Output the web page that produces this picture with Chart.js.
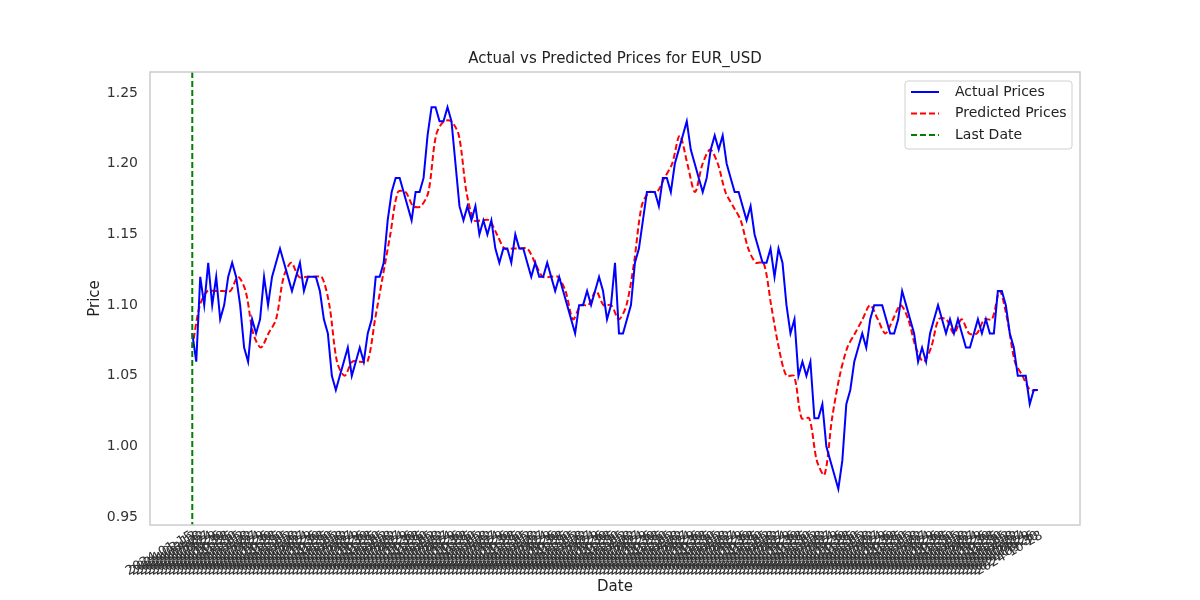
<!DOCTYPE html>
<html><head><meta charset="utf-8">
<script src="https://cdn.jsdelivr.net/npm/chart.js@4"></script>
<style>html,body{margin:0;background:#fff}#w{width:1200px;height:600px}</style>
</head><body><div id="w"><canvas id="c"></canvas></div>
<script>
const actualPrices=[1.08,1.06,1.12,1.10,1.13,1.10,1.12,1.09,1.10,1.12,1.13,1.12,1.10,1.07,1.06,1.09,1.08,1.09,1.12,1.10,
1.12,1.13,1.14,1.13,1.12,1.11,1.12,1.13,1.11,1.12,1.12,1.12,1.11,1.09,1.08,1.05,1.04,1.05,1.06,1.07,
1.05,1.06,1.07,1.06,1.08,1.09,1.12,1.12,1.13,1.16,1.18,1.19,1.19,1.18,1.17,1.16,1.18,1.18,1.19,1.22,
1.24,1.24,1.23,1.23,1.24,1.23,1.20,1.17,1.16,1.17,1.16,1.17,1.15,1.16,1.15,1.16,1.14,1.13,1.14,1.14,
1.13,1.15,1.14,1.14,1.13,1.12,1.13,1.12,1.12,1.13,1.12,1.11,1.12,1.11,1.10,1.09,1.08,1.10,1.10,1.11,
1.10,1.11,1.12,1.11,1.09,1.10,1.13,1.08,1.08,1.09,1.10,1.13,1.14,1.16,1.18,1.18,1.18,1.17,1.19,1.19,
1.18,1.20,1.21,1.22,1.23,1.21,1.20,1.19,1.18,1.19,1.21,1.22,1.21,1.22,1.20,1.19,1.18,1.18,1.17,1.16,
1.17,1.15,1.14,1.13,1.13,1.14,1.12,1.14,1.13,1.10,1.08,1.09,1.05,1.06,1.05,1.06,1.02,1.02,1.03,1.00,
0.99,0.98,0.97,0.99,1.03,1.04,1.06,1.07,1.08,1.07,1.09,1.10,1.10,1.10,1.09,1.08,1.08,1.09,1.11,1.10,
1.09,1.08,1.06,1.07,1.06,1.08,1.09,1.10,1.09,1.08,1.09,1.08,1.09,1.08,1.07,1.07,1.08,1.09,1.08,1.09,
1.08,1.08,1.11,1.11,1.10,1.08,1.07,1.05,1.05,1.05,1.03,1.04,1.04];
const predictedPrices=[1.07,1.10,1.11,1.11,1.11,1.11,1.12,1.11,1.08,1.07,1.08,1.09,1.12,1.13,1.12,1.12,1.12,1.12,1.10,1.06,
1.05,1.06,1.06,1.06,1.09,1.12,1.15,1.18,1.18,1.17,1.17,1.18,1.22,1.23,1.23,1.22,1.18,1.16,1.16,1.16,
1.15,1.14,1.14,1.14,1.14,1.13,1.12,1.12,1.12,1.11,1.09,1.10,1.10,1.11,1.10,1.10,1.09,1.10,1.13,1.17,
1.18,1.18,1.19,1.20,1.22,1.20,1.18,1.20,1.21,1.20,1.18,1.17,1.16,1.14,1.13,1.13,1.10,1.07,1.05,1.05,
1.02,1.02,0.99,0.98,1.02,1.05,1.07,1.08,1.09,1.10,1.09,1.08,1.09,1.10,1.09,1.07,1.06,1.07,1.09,1.09,
1.08,1.09,1.08,1.08,1.09,1.09,1.11,1.09,1.06,1.05,1.04,1.04];
const tickDates=['2024-01-15','2024-02-12','2024-03-18','2024-04-22','2024-05-27','2024-06-24','2024-07-29','2024-08-26','2024-09-30','2024-10-28','2024-11-25','2024-12-30'];
const yTicks=[0.95,1.00,1.05,1.10,1.15,1.20,1.25];
const legendItems=[['Actual Prices','#0000ff',[]],['Predicted Prices','#ff0000',[6,3]],['Last Date','#008000',[6,3]]];

const N=actualPrices.length-1;
const actualPts=actualPrices.map((v,i)=>({x:i,y:v}));
const predPts=predictedPrices.map((v,i)=>({x:i*N/(predictedPrices.length-1),y:v}));

const deco={id:'deco',afterDatasetsDraw(ch){
 const c=ch.ctx,a=ch.chartArea,xs=ch.scales.x;
 c.save();
 const gx=xs.getPixelForValue(0);
 c.strokeStyle='#008000';c.lineWidth=2;c.setLineDash([6,3]);
 c.beginPath();c.moveTo(gx,a.top);c.lineTo(gx,a.bottom);c.stroke();
 c.setLineDash([]);c.strokeStyle='#cccccc';c.lineWidth=1.5;
 c.strokeRect(a.left,a.top,a.right-a.left,a.bottom-a.top);
 c.fillStyle='#222';c.font='15px "DejaVu Sans"';c.textAlign='center';c.textBaseline='bottom';
 c.fillText('Actual vs Predicted Prices for EUR_USD',(a.left+a.right)/2,a.top-5);
 const lx=905,ly=81,lw=167,lh=68;
 c.fillStyle='rgba(255,255,255,0.9)';c.strokeStyle='#d0d0d0';c.lineWidth=1;
 c.beginPath();c.roundRect(lx,ly,lw,lh,3);c.fill();c.stroke();
 c.font='14px "DejaVu Sans"';c.textAlign='left';c.textBaseline='middle';
 legendItems.forEach((it,i)=>{const y=ly+11+i*21.5;
  c.strokeStyle=it[1];c.lineWidth=2;c.setLineDash(it[2]);
  c.beginPath();c.moveTo(lx+6,y);c.lineTo(lx+34,y);c.stroke();c.setLineDash([]);
  c.fillStyle='#222';c.fillText(it[0],lx+50,y);});
 c.restore();}};

new Chart(document.getElementById('c'),{type:'line',
 data:{datasets:[
  {data:actualPts,borderColor:'#0000ff',borderWidth:2,pointRadius:0,tension:0},
  {data:predPts,borderColor:'#ff0000',borderWidth:2,borderDash:[6,3],pointRadius:0,tension:0.3}]},
 options:{animation:false,responsive:true,maintainAspectRatio:false,
  layout:{padding:{top:72,right:120,left:82,bottom:0}},
  plugins:{legend:{display:false},tooltip:{enabled:false}},
  scales:{
   x:{type:'linear',min:-N*0.05,max:N*1.05,grid:{display:false,drawTicks:false},border:{display:false},
    afterBuildTicks(s){const t=[];for(let v=0;v<=N+1;v+=1)t.push({value:v});s.ticks=t;},
    afterFit(s){s.height=75;},
    title:{display:true,text:'Date',color:'#222',font:{size:15,family:'DejaVu Sans'},padding:{top:0}},
    ticks:{autoSkip:false,maxRotation:30,minRotation:30,color:'#333',font:{size:13,family:'DejaVu Sans'},
     callback:(v)=>tickDates[Math.round(v)%tickDates.length]}},
   y:{min:0.9445,max:1.2649,grid:{display:false,drawTicks:false},border:{display:false},
    afterBuildTicks(s){s.ticks=yTicks.map(v=>({value:v}));},
    afterFit(s){s.width=68;},
    title:{display:true,text:'Price',color:'#222',font:{size:15,family:'DejaVu Sans'}},
    ticks:{padding:12,color:'#333',font:{size:14,family:'DejaVu Sans'},callback:v=>v.toFixed(2)}}}},
 plugins:[deco]});
</script></body></html>
